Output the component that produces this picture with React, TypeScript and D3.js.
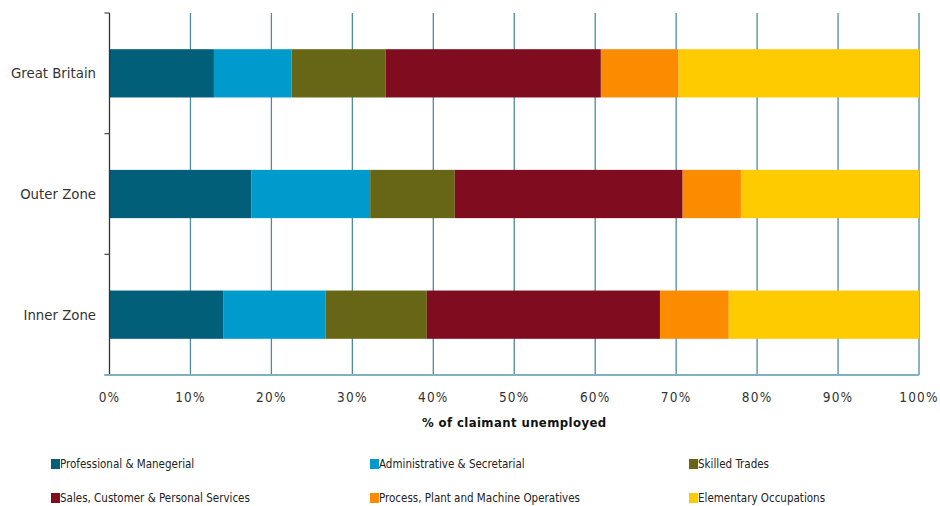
import * as d3 from 'd3';

const regions = ['Great Britain', 'Outer Zone', 'Inner Zone'];
const occupations = [
    'Professional & Manegerial',
    'Administrative & Secretarial',
    'Skilled Trades',
    'Sales, Customer & Personal Services',
    'Process,  Plant and Machine Operatives',
    'Elementary Occupations',
];
const colours = ['#025f7a', '#009bcd', '#666616', '#800c20', '#fb8c00', '#fecb00'];

// share of claimants, % (one value per region, same order as regions)
const professional = [12.9, 17.5, 14.1];
const administrative = [9.6, 14.7, 12.6];
const skilled = [11.6, 10.45, 12.5];
const sales = [26.6, 28.15, 28.8];
const process = [9.6, 7.2, 8.5];
const elementary = [29.7, 22.0, 23.5];

const xTicks = [0, 10, 20, 30, 40, 50, 60, 70, 80, 90, 100];

const seriesValues = [professional, administrative, skilled, sales, process, elementary];

const narrow = '"Liberation Sans Narrow", "DejaVu Sans Condensed", sans-serif';

export default function App() {
    const width = 940,
        height = 506;
    const margin = { top: 13, right: 21, bottom: 131, left: 109.5 };

    const x = d3
        .scaleLinear()
        .domain([0, 100])
        .range([margin.left, width - margin.right]);
    const y = d3
        .scaleBand()
        .domain(regions)
        .range([margin.top, height - margin.bottom])
        .paddingInner(0.6)
        .paddingOuter(0.3);

    const rows = regions.map((r, i) => {
        const row: Record<string, any> = { region: r };
        occupations.forEach((o, j) => (row[o] = seriesValues[j][i]));
        return row;
    });
    const stacked = d3.stack().keys(occupations)(rows as any);

    const y0 = margin.top,
        y1 = height - margin.bottom;
    const step = y.step();
    const yTicks = d3.range(regions.length + 1).map((i) => y0 + i * step);

    return (
        <svg
            width={width}
            height={height}
            style={{ position: 'absolute', left: 0, top: 0, background: '#fff' }}
        >
            {/* vertical gridlines */}
            {xTicks.slice(1).map((t) => (
                <line
                    key={t}
                    x1={x(t)}
                    x2={x(t)}
                    y1={y0}
                    y2={y1}
                    stroke="#4b8c9e"
                    strokeWidth={1.3}
                />
            ))}

            {/* bars */}
            {stacked.map((s, i) => (
                <g key={s.key} fill={colours[i]}>
                    {s.map((d: any) => (
                        <rect
                            key={d.data.region}
                            x={x(d[0])}
                            y={y(d.data.region)}
                            width={x(d[1]) - x(d[0])}
                            height={y.bandwidth()}
                        />
                    ))}
                </g>
            ))}

            {/* y axis */}
            <line x1={margin.left} x2={margin.left} y1={y0} y2={y1} stroke="#333" strokeWidth={1.3} />
            {yTicks.map((t) => (
                <line key={t} x1={margin.left - 5} x2={margin.left} y1={t} y2={t} stroke="#555" strokeWidth={1.3} />
            ))}
            {regions.map((r) => (
                <text
                    key={r}
                    x={96}
                    y={(y(r) ?? 0) + y.bandwidth() / 2 + 5}
                    textAnchor="end"
                    fontFamily='"DejaVu Sans", Verdana, sans-serif'
                    fontSize={13.3}
                    fill="#333"
                >
                    {r}
                </text>
            ))}

            {/* x axis */}
            <line x1={margin.left - 5} x2={x(100)} y1={y1} y2={y1} stroke="#7fb1bf" strokeWidth={2.2} />
            {xTicks.map((t) => (
                <text
                    key={t}
                    x={x(t)}
                    y={402}
                    textAnchor="middle"
                    fontFamily={narrow}
                    fontSize={13.5}
                    letterSpacing={1.2}
                    fill="#333"
                >
                    {t}%
                </text>
            ))}
            <text
                x={x(50)}
                y={427}
                textAnchor="middle"
                fontFamily={narrow}
                fontWeight="bold"
                fontSize={13}
                letterSpacing={0.4}
                fill="#111"
            >
                % of claimant unemployed
            </text>

            {/* legend */}
            {occupations.map((o, i) => {
                const lx = [51, 370, 689][i % 3];
                const ly = [464, 498][Math.floor(i / 3)];
                return (
                    <g key={o} transform={`translate(${lx},${ly})`}>
                        <rect x={0} y={-5} width={9} height={10} fill={colours[i]} />
                        <text x={9} y={4} fontFamily={narrow} fontSize={11.5} fill="#222">
                            {o}
                        </text>
                    </g>
                );
            })}
        </svg>
    );
}
